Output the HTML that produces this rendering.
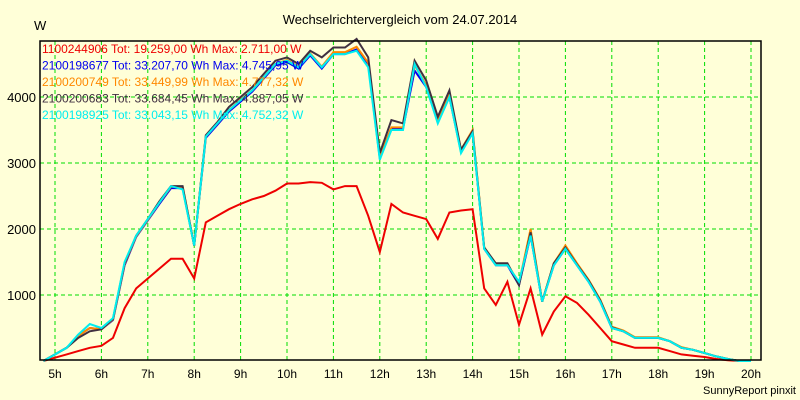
<!DOCTYPE html>
<html><head><meta charset="utf-8"><style>
body{margin:0;background:#ffffd8;}
svg{display:block;font-family:"Liberation Sans",sans-serif;}
</style></head><body>
<svg id="c" width="800" height="400">
<rect x="0" y="0" width="800" height="400" fill="#ffffd8"/>
<text x="400" y="24" text-anchor="middle" font-size="13">Wechselrichtervergleich vom 24.07.2014</text>
<text x="34" y="30" font-size="13">W</text>
<g id="grid"></g><g id="series"></g><g id="legend"></g>
<rect x="40" y="41" width="721" height="319" fill="none" stroke="#000" stroke-width="1.5"/>
<text x="796" y="394" text-anchor="end" font-size="11">SunnyReport pinxit</text>
</svg>
<script>
const hours=["5h","6h","7h","8h","9h","10h","11h","12h","13h","14h","15h","16h","17h","18h","19h","20h"];
const yTicks=[1000,2000,3000,4000];
const startTime=4.75, step=0.25;
const red=[0,50,100,150,200,230,350,800,1100,1250,1400,1550,1550,1250,2100,2200,2300,2380,2450,2500,2580,2690,2690,2711,2700,2600,2650,2650,2200,1650,2380,2250,2200,2150,1850,2250,2280,2300,1100,850,1200,550,1100,400,750,980,880,700,500,300,250,200,200,200,150,100,80,60,30,10,0,0];
const blue=[0,100,200,380,500,480,620,1450,1880,2130,2380,2620,2620,1750,3380,3580,3780,3930,4080,4280,4480,4530,4430,4630,4430,4650,4650,4720,4500,3070,3520,3520,4400,4150,3620,4000,3170,3450,1700,1450,1450,1150,1900,900,1450,1700,1450,1200,900,500,450,350,350,350,300,200,170,120,70,30,0,0];
const orange=[0,100,200,380,500,480,630,1470,1890,2140,2400,2640,2640,1750,3400,3600,3800,3960,4100,4300,4500,4560,4460,4660,4460,4680,4680,4760,4520,3100,3540,3540,4480,4180,3640,4030,3200,3500,1720,1470,1470,1180,2000,900,1480,1750,1480,1230,930,520,460,360,360,360,300,210,170,120,70,30,0,0];
const dark=[0,100,200,350,450,480,640,1480,1900,2150,2420,2650,2650,1750,3420,3620,3850,4000,4150,4350,4550,4600,4500,4700,4600,4750,4750,4880,4600,3150,3650,3600,4550,4250,3700,4100,3200,3480,1720,1480,1480,1150,1950,900,1480,1720,1460,1220,920,510,450,350,350,350,300,200,170,120,70,30,0,0];
const cyan=[0,100,200,400,560,500,650,1500,1900,2150,2400,2650,2600,1750,3400,3600,3800,3950,4100,4300,4500,4550,4450,4650,4450,4650,4650,4700,4450,3050,3500,3500,4500,4150,3600,4000,3150,3450,1700,1450,1450,1200,1900,900,1450,1700,1450,1200,900,500,450,350,350,350,300,200,170,120,70,30,0,0];
const legendIds=["1100244906","2100198677","2100200749","2100200683","2100198925"];
const legendTot=["19.259,00","33.207,70","33.449,99","33.684,45","33.043,15"];
const legendMax=["2.711,00","4.745,95","4.777,32","4.887,05","4.752,32"];
const NS="http://www.w3.org/2000/svg";
const X=t=>55+(t-5)*46.4;
const Y=v=>361-v*0.066;
const grid=document.getElementById('grid');
hours.forEach((h,i)=>{
 const x=X(5+i);
 const l=document.createElementNS(NS,'line');
 l.setAttribute('x1',x);l.setAttribute('x2',x);l.setAttribute('y1',41);l.setAttribute('y2',360);
 l.setAttribute('stroke','#00dd00');l.setAttribute('stroke-dasharray','4,3');
 
 
 grid.appendChild(l);
 const t=document.createElementNS(NS,'text');
 t.setAttribute('x',x);t.setAttribute('y',378);t.setAttribute('text-anchor','middle');t.setAttribute('font-size','12');
 t.textContent=h;
 
 
 grid.appendChild(t);
});
yTicks.forEach(v=>{
 const y=Y(v);
 const l=document.createElementNS(NS,'line');
 l.setAttribute('x1',40);l.setAttribute('x2',761);l.setAttribute('y1',y);l.setAttribute('y2',y);
 l.setAttribute('stroke','#00dd00');l.setAttribute('stroke-dasharray','4,3');
 
 
 grid.appendChild(l);
 const t=document.createElementNS(NS,'text');
 t.setAttribute('x',36);t.setAttribute('y',y+5);t.setAttribute('text-anchor','end');t.setAttribute('font-size','13');
 t.textContent=v;
 
 
 grid.appendChild(t);
});
const ser=document.getElementById('series');
const all=[[red,'#ee0000','series-1100244906'],[blue,'#0000ee','series-2100198677'],[orange,'#ff8800','series-2100200749'],[dark,'#403040','series-2100200683'],[cyan,'#00eeee','series-2100198925']];
all.forEach(s=>{
 const p=document.createElementNS(NS,'polyline');
 p.setAttribute('points',s[0].map((v,i)=>X(startTime+i*step).toFixed(1)+','+Y(v).toFixed(1)).join(' '));
 p.setAttribute('fill','none');p.setAttribute('stroke',s[1]);p.setAttribute('stroke-width','2');
 
 
 ser.appendChild(p);
});
const lg=document.getElementById('legend');
const lcol=['#ee0000','#0000ee','#ff8800','#403040','#00eeee'];
legendIds.forEach((id,i)=>{
 const t=document.createElementNS(NS,'text');
 t.setAttribute('x',42);t.setAttribute('y',53+i*16.5);t.setAttribute('font-size','12');t.setAttribute('fill',lcol[i]);
 t.textContent=id+" Tot: "+legendTot[i]+" Wh Max: "+legendMax[i]+" W";
 
 
 lg.appendChild(t);
});
</script>
</body></html>
